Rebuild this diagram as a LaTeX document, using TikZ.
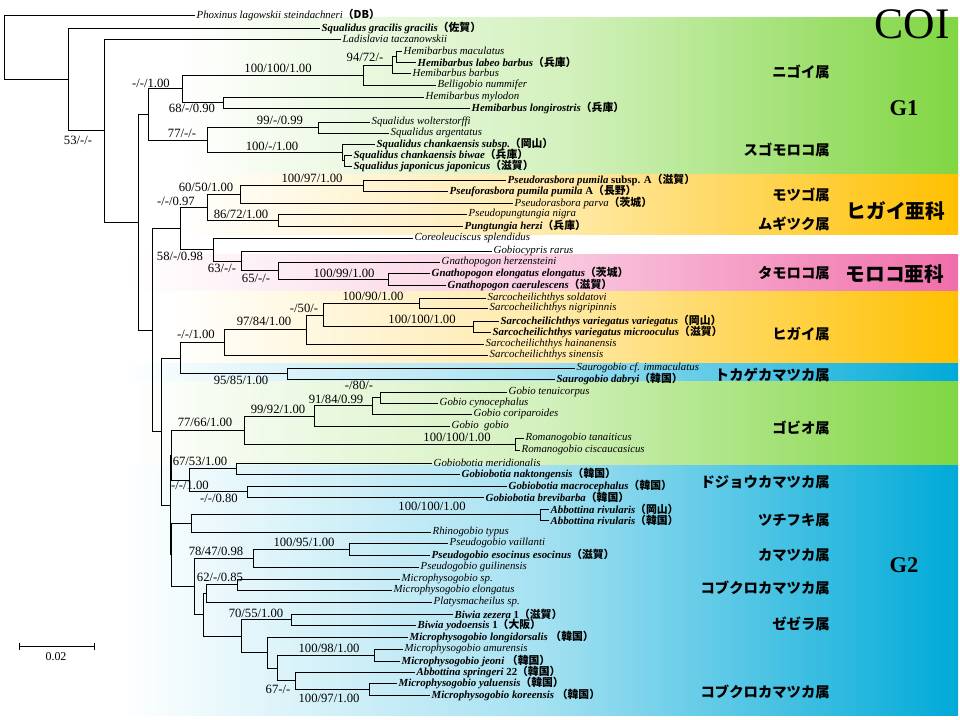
\documentclass[tikz,border=0pt]{standalone}
\usepackage{fontspec}
\setmainfont{Liberation Serif}
\newfontfamily\jp{Noto Sans CJK JP}
\newcommand{\locjp}[1]{{\upshape\jp\bfseries #1}}
\definecolor{bandgreen}{RGB}{128,214,66}
\definecolor{bandgold}{RGB}{255,192,0}
\definecolor{bandpink}{RGB}{240,110,170}
\definecolor{bandblue}{RGB}{0,170,216}
\tikzset{
  branch/.style={line width=0.7pt},
  taxon/.style={anchor=west, inner sep=1pt, font=\fontsize{7.7}{8}\selectfont\itshape},
  taxonb/.style={taxon, font=\fontsize{7.7}{8}\selectfont\itshape\bfseries},
  bs/.style={inner sep=0pt, font=\fontsize{9}{9}\selectfont},
  genus/.style={anchor=east, inner sep=0pt, font=\fontsize{10.2}{11}\selectfont\jp\bfseries},
  subfam/.style={inner sep=0pt, font=\fontsize{14}{15}\selectfont\jp\bfseries},
  grp/.style={inner sep=0pt, font=\fontsize{16}{16}\selectfont\bfseries},
  band/.style={left color=white, right color=#1, middle color=#1!35},
}
\begin{document}
\begin{tikzpicture}[x=0.025cm, y=-0.025cm]
\useasboundingbox (0,0) rectangle (960,720);
\fill[white] (0,0) rectangle (960,720);

% coloured bands
\shade[band=bandgreen] (180,18) rectangle (958,175);
\shade[band=bandgold] (180,175) rectangle (958,235);
\shade[band=bandpink] (130,255) rectangle (958,292);
\shade[band=bandgold] (170,292) rectangle (958,364);
\shade[band=bandblue] (120,364) rectangle (958,382);
\shade[band=bandgreen] (130,382) rectangle (958,466);
\shade[band=bandblue] (120,466) rectangle (958,715);

% taxa
\node[taxon] (t1) at (195,15) {Phoxinus lagowskii steindachneri\locjp{（DB）}};
\node[taxonb] (t2) at (320,28) {Squalidus gracilis gracilis\locjp{（佐賀）}};
\node[taxon] (t3) at (341,39) {Ladislavia taczanowskii};
\node[taxon] (t4) at (402,51) {Hemibarbus maculatus};
\node[taxonb] (t5) at (416,62) {Hemibarbus labeo barbus\locjp{（兵庫）}};
\node[taxon] (t6) at (411,73) {Hemibarbus barbus};
\node[taxon] (t7) at (436,85) {Belligobio nummifer};
\node[taxon] (t8) at (424,97) {Hemibarbus mylodon};
\node[taxonb] (t9) at (470,108) {Hemibarbus longirostris\locjp{（兵庫）}};
\node[taxon] (t10) at (370,122) {Squalidus wolterstorffi};
\node[taxon] (t11) at (389,133) {Squalidus argentatus};
\node[taxonb] (t12) at (375,144) {Squalidus chankaensis subsp.\locjp{（岡山）}};
\node[taxonb] (t13) at (352,155) {Squalidus chankaensis biwae\locjp{（兵庫）}};
\node[taxonb] (t14) at (352,166) {Squalidus japonicus japonicus\locjp{（滋賀）}};
\node[taxonb] (t15) at (506,180) {Pseudorasbora pumila \upshape subsp. A\locjp{（滋賀）}};
\node[taxonb] (t16) at (448,191) {Pseuforasbora pumila pumila \upshape A\locjp{（長野）}};
\node[taxon] (t17) at (513,203) {Pseudorasbora parva\locjp{（茨城）}};
\node[taxon] (t18) at (467,214) {Pseudopungtungia nigra};
\node[taxonb] (t19) at (463,226) {Pungtungia herzi\locjp{（兵庫）}};
\node[taxon] (t20) at (413,238) {Coreoleuciscus splendidus};
\node[taxon] (t21) at (492,251) {Gobiocypris rarus};
\node[taxon] (t22) at (440,262) {Gnathopogon herzensteini};
\node[taxonb] (t23) at (430,273) {Gnathopogon elongatus elongatus\locjp{（茨城）}};
\node[taxonb] (t24) at (446,285) {Gnathopogon caerulescens\locjp{（滋賀）}};
\node[taxon] (t25) at (486,298) {Sarcocheilichthys soldatovi};
\node[taxon] (t26) at (488,308) {Sarcocheilichthys nigripinnis};
\node[taxonb] (t27) at (499,321) {Sarcocheilichthys variegatus variegatus\locjp{（岡山）}};
\node[taxonb] (t28) at (491,332) {Sarcocheilichthys variegatus microoculus\locjp{（滋賀）}};
\node[taxon] (t29) at (484,344) {Sarcocheilichthys hainanensis};
\node[taxon] (t30) at (488,355) {Sarcocheilichthys sinensis};
\node[taxon] (t31) at (575,368) {Saurogobio cf. immaculatus};
\node[taxonb] (t32) at (555,379) {Saurogobio dabryi\locjp{（韓国）}};
\node[taxon] (t33) at (507,392) {Gobio tenuicorpus};
\node[taxon] (t34) at (438,403) {Gobio cynocephalus};
\node[taxon] (t35) at (472,414) {Gobio coriparoides};
\node[taxon] (t36) at (450,426) {Gobio\ \ gobio};
\node[taxon] (t37) at (524,438) {Romanogobio tanaiticus};
\node[taxon] (t38) at (520,450) {Romanogobio ciscaucasicus};
\node[taxon] (t39) at (432,463) {Gobiobotia meridionalis};
\node[taxonb] (t40) at (460,474) {Gobiobotia naktongensis\locjp{（韓国）}};
\node[taxonb] (t41) at (507,486) {Gobiobotia macrocephalus\locjp{（韓国）}};
\node[taxonb] (t42) at (484,497) {Gobiobotia brevibarba\locjp{（韓国）}};
\node[taxonb] (t43) at (549,509) {Abbottina rivularis\locjp{（岡山）}};
\node[taxonb] (t44) at (549,520) {Abbottina rivularis\locjp{（韓国）}};
\node[taxon] (t45) at (431,532) {Rhinogobio typus};
\node[taxon] (t46) at (448,543) {Pseudogobio vaillanti};
\node[taxonb] (t47) at (430,555) {Pseudogobio esocinus esocinus\locjp{（滋賀）}};
\node[taxon] (t48) at (419,567) {Pseudogobio guilinensis};
\node[taxon] (t49) at (400,579) {Microphysogobio sp.};
\node[taxon] (t50) at (392,590) {Microphysogobio elongatus};
\node[taxon] (t51) at (432,602) {Platysmacheilus sp.};
\node[taxonb] (t52) at (453,614) {Biwia zezera \upshape 1\locjp{（滋賀）}};
\node[taxonb] (t53) at (416,625) {Biwia yodoensis \upshape 1\locjp{（大阪）}};
\node[taxonb] (t54) at (408,637) {Microphysogobio longidorsalis \locjp{（韓国）}};
\node[taxon] (t55) at (403,649) {Microphysogobio amurensis};
\node[taxonb] (t56) at (400,661) {Microphysogobio jeoni \locjp{（韓国）}};
\node[taxonb] (t57) at (415,672) {Abbottina springeri \upshape 22\locjp{（韓国）}};
\node[taxonb] (t58) at (397,683) {Microphysogobio yaluensis\locjp{（韓国）}};
\node[taxonb] (t59) at (430,695) {Microphysogobio koreensis \locjp{（韓国）}};

% internal nodes
\coordinate (n0) at (4,47);
\coordinate (n1) at (68,79);
\coordinate (n2) at (104,130.5);
\coordinate (nB) at (138,222);
\coordinate (nA) at (148,114);
\coordinate (nA1) at (182,88.5);
\coordinate (nA3) at (363,75);
\coordinate (nA4) at (392,65);
\coordinate (nA5) at (396,56.5);
\coordinate (nA6) at (223,102.5);
\coordinate (nA2) at (207,140);
\coordinate (nA7) at (318,127.5);
\coordinate (nA8) at (342,152);
\coordinate (nA9) at (344,160.5);
\coordinate (nC) at (152,330);
\coordinate (nD) at (180,228);
\coordinate (nE) at (207,207);
\coordinate (nG) at (240,194);
\coordinate (nI) at (363,185.5);
\coordinate (nH) at (278,220);
\coordinate (nF) at (213,249.5);
\coordinate (nJ) at (241,261);
\coordinate (nK) at (278,270.5);
\coordinate (nL) at (388,279);
\coordinate (nM) at (161,431.5);
\coordinate (nN) at (180,358);
\coordinate (nO) at (224,342);
\coordinate (nQ) at (306,329.5);
\coordinate (nR) at (323,315);
\coordinate (nS) at (419,303);
\coordinate (nT) at (473,326.5);
\coordinate (nP) at (287,373.5);
\coordinate (nUb) at (170,505);
\coordinate (nUa) at (171,455);
\coordinate (nV) at (244,430);
\coordinate (nAA) at (314,416);
\coordinate (nAC) at (372,405.5);
\coordinate (nAD) at (380,397.5);
\coordinate (nRo) at (515,444);
\coordinate (nX) at (189,480);
\coordinate (nY) at (236,468.5);
\coordinate (nZ) at (247,491.5);
\coordinate (nW) at (171,554.5);
\coordinate (nAE) at (191,523);
\coordinate (nAS) at (540,514.5);
\coordinate (nAF) at (194,586);
\coordinate (nAG) at (253,558);
\coordinate (nAI) at (349,549);
\coordinate (nAH) at (203,614.5);
\coordinate (nAJ) at (206,593);
\coordinate (nAL) at (237,584.5);
\coordinate (nAK) at (241,636);
\coordinate (nAM) at (291,619.5);
\coordinate (nAN) at (267,652.5);
\coordinate (nAO) at (277,668);
\coordinate (nAP) at (374,655);
\coordinate (nAQ) at (295,680.5);
\coordinate (nAR) at (369,689);

% branches
\foreach \pa/\ca/\cb in {n0/t1/n1, n1/t2/n2, n2/t3/nB, nB/nA/nC, nA/nA1/nA2,
    nA1/nA3/nA6, nA3/nA4/t7, nA4/nA5/t6, nA5/t4/t5, nA6/t8/t9, nA2/nA7/nA8,
    nA7/t10/t11, nA8/t12/nA9, nA9/t13/t14, nC/nD/nM, nD/nE/nF, nE/nG/nH,
    nG/nI/t17, nI/t15/t16, nH/t18/t19, nF/t20/nJ, nJ/t21/nK, nK/t22/nL,
    nL/t23/t24, nM/nN/nUb, nN/nO/nP, nO/nQ/t30, nQ/nR/t29, nR/nS/nT,
    nS/t25/t26, nT/t27/t28, nP/t31/t32, nUb/nUa/nW, nUa/nV/nX, nV/nAA/nRo,
    nAA/nAC/t36, nAC/nAD/t35, nAD/t33/t34, nRo/t37/t38, nX/nY/nZ,
    nY/t39/t40, nZ/t41/t42, nW/nAE/nAF, nAE/nAS/t45, nAS/t43/t44,
    nAF/nAG/nAH, nAG/nAI/t48, nAI/t46/t47, nAH/nAJ/nAK, nAJ/nAL/t51,
    nAL/t49/t50, nAK/nAM/nAN, nAM/t52/t53, nAN/t54/nAO, nAO/nAP/nAQ,
    nAP/t55/t56, nAQ/t57/nAR, nAR/t58/t59}
  \draw[branch] (\pa) |- (\ca) (\pa) |- (\cb);

% support values
\node[bs] (s1) at (365,57) {94/72/-};
\node[bs] (s2) at (278,68) {100/100/1.00};
\node[bs] (s3) at (151,83) {-/-/1.00};
\node[bs] (s4) at (192,108) {68/-/0.90};
\node[bs] (s5) at (280,120) {99/-/0.99};
\node[bs] (s6) at (182,133) {77/-/-};
\node[bs] (s7) at (78,140) {53/-/-};
\node[bs] (s8) at (272,146) {100/-/1.00};
\node[bs] (s9) at (312,178) {100/97/1.00};
\node[bs] (s10) at (206,187) {60/50/1.00};
\node[bs] (s11) at (176,201) {-/-/0.97};
\node[bs] (s12) at (241,214) {86/72/1.00};
\node[bs] (s13) at (180,256) {58/-/0.98};
\node[bs] (s14) at (222,268) {63/-/-};
\node[bs] (s15) at (344,273) {100/99/1.00};
\node[bs] (s16) at (256,278) {65/-/-};
\node[bs] (s17) at (373,296) {100/90/1.00};
\node[bs] (s18) at (304,308) {-/50/-};
\node[bs] (s19) at (422,319) {100/100/1.00};
\node[bs] (s20) at (264,321) {97/84/1.00};
\node[bs] (s21) at (196,334) {-/-/1.00};
\node[bs] (s22) at (241,380) {95/85/1.00};
\node[bs] (s23) at (359,385) {-/80/-};
\node[bs] (s24) at (336,399) {91/84/0.99};
\node[bs] (s25) at (278,409) {99/92/1.00};
\node[bs] (s26) at (205,422) {77/66/1.00};
\node[bs] (s27) at (457,437) {100/100/1.00};
\node[bs] (s28) at (200,461) {67/53/1.00};
\node[bs] (s29) at (190,485) {-/-/1.00};
\node[bs] (s30) at (219,498) {-/-/0.80};
\node[bs] (s31) at (432,506) {100/100/1.00};
\node[bs] (s32) at (304,542) {100/95/1.00};
\node[bs] (s33) at (216,551) {78/47/0.98};
\node[bs] (s34) at (220,577) {62/-/0.85};
\node[bs] (s35) at (256,613) {70/55/1.00};
\node[bs] (s36) at (329,648) {100/98/1.00};
\node[bs] (s37) at (278,689) {67-/-};
\node[bs] (s38) at (329,698) {100/97/1.00};

% genus labels
\node[genus] (g1) at (830,72) {ニゴイ属};
\node[genus] (g2) at (830,150) {スゴモロコ属};
\node[genus] (g3) at (830,195) {モツゴ属};
\node[genus] (g4) at (830,224) {ムギツク属};
\node[genus] (g5) at (830,273) {タモロコ属};
\node[genus] (g6) at (830,334) {ヒガイ属};
\node[genus] (g7) at (830,375) {トカゲカマツカ属};
\node[genus] (g8) at (830,428) {ゴビオ属};
\node[genus] (g9) at (830,482) {ドジョウカマツカ属};
\node[genus] (g10) at (830,520) {ツチフキ属};
\node[genus] (g11) at (830,555) {カマツカ属};
\node[genus] (g12) at (830,588) {コブクロカマツカ属};
\node[genus] (g13) at (830,624) {ゼゼラ属};
\node[genus] (g14) at (830,692) {コブクロカマツカ属};

% subfamilies and groups
\node[subfam] (sf1) at (896,211) {ヒガイ亜科};
\node[subfam] (sf2) at (895,274) {モロコ亜科};
\node[grp] (G1) at (904,108) {G1};
\node[grp] (G2) at (904,565) {G2};
\node[inner sep=0pt, font=\fontsize{31}{31}\selectfont] (coi) at (912,24) {COI};

% scale bar
\coordinate (sbl) at (19,646);
\coordinate (sbr) at (94,646);
\draw[branch] (sbl) -- (sbr);
\draw[branch] (sbl) ++(0,-3.5) -- ++(0,7);
\draw[branch] (sbr) ++(0,-3.5) -- ++(0,7);
\node[inner sep=0pt, font=\fontsize{8.5}{9}\selectfont] (sbt) at (56,657) {0.02};
\end{tikzpicture}
\end{document}
